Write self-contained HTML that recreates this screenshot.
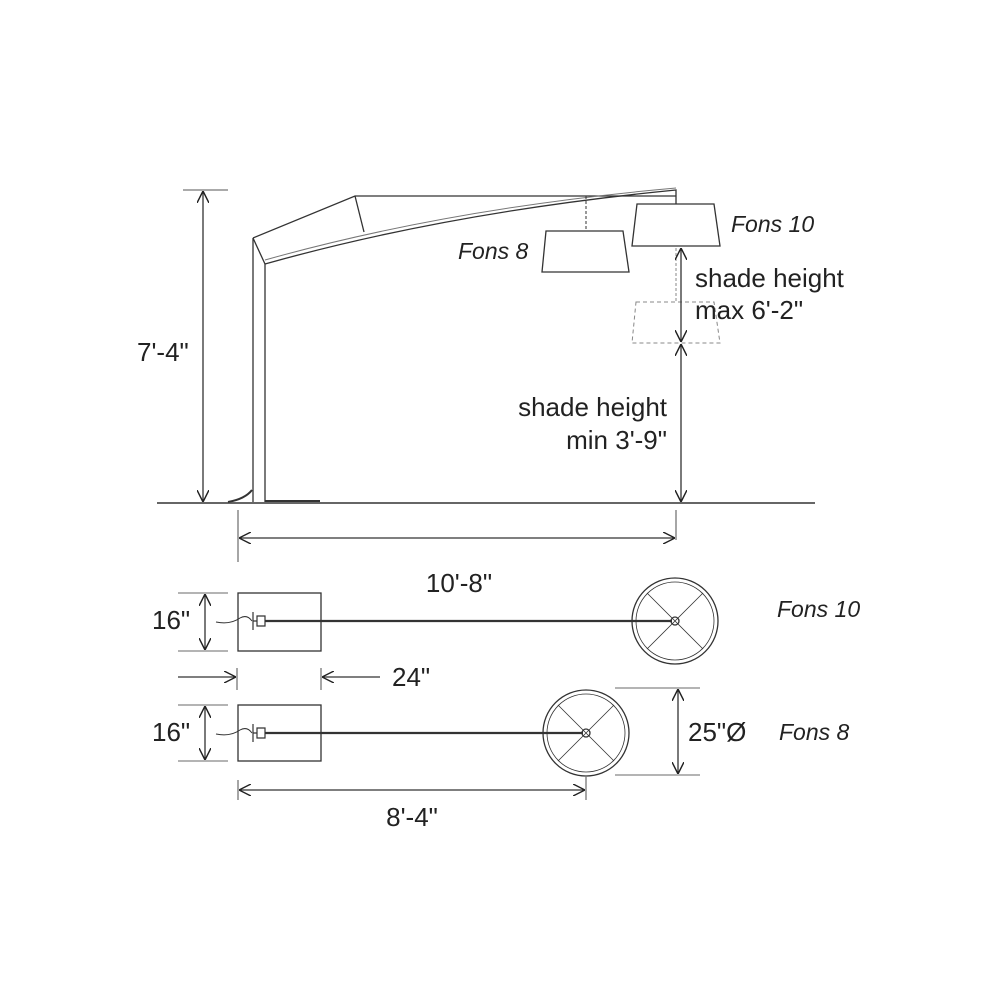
<!DOCTYPE html>
<html><head><meta charset="utf-8"><style>
html,body{margin:0;padding:0;background:#fff;}
svg{display:block}
text{font-family:"Liberation Sans",sans-serif;font-size:26px;fill:#222}
.i{font-style:italic;font-size:23px}
</style></head><body>
<svg width="1000" height="1000" viewBox="0 0 1000 1000" xmlns="http://www.w3.org/2000/svg">
<defs>
<marker id="a" viewBox="0 0 10 10" refX="10" refY="5" markerWidth="12" markerHeight="12" markerUnits="userSpaceOnUse" orient="auto-start-reverse">
<path d="M0,0 L10,5 L0,10" fill="none" stroke="#222" stroke-width="1.2"/>
</marker>
</defs>
<g stroke="#333" fill="none" stroke-width="1.3">
<line x1="157" y1="503" x2="815" y2="503" stroke="#666" stroke-width="2"/>
<line x1="183" y1="190" x2="228" y2="190" stroke="#777"/>
<line x1="203" y1="191" x2="203" y2="502" marker-start="url(#a)" marker-end="url(#a)"/>
<line x1="253" y1="238" x2="253" y2="502"/>
<line x1="265" y1="264" x2="265" y2="502"/>
<line x1="265" y1="501" x2="320" y2="501" stroke-width="2"/>
<path d="M228,502 Q245,499 252,490" stroke-width="2"/>
<path d="M253,238 L355,196 L676,196 M355,196 L364,232 M253,238 L265,264"/>
<path d="M265,264 Q450,212 676,190 L676,196"/>
<path d="M265,260 Q450,208 676,188" stroke="#777" stroke-width="1"/>
<line x1="586" y1="196" x2="586" y2="231" stroke-dasharray="3,2" stroke-width="1"/>
<path d="M546,231 L623,231 L629,272 L542,272 Z"/>
<line x1="676" y1="196" x2="676" y2="204"/>
<path d="M637,204 L714,204 L720,246 L632,246 Z"/>
<path d="M636,302 L714,302 L720,343 L632,343 Z" stroke="#888" stroke-dasharray="4,3" stroke-width="1"/>
<line x1="676" y1="248" x2="676" y2="302" stroke="#888" stroke-dasharray="3,2" stroke-width="1"/>
<line x1="681" y1="248" x2="681" y2="342" marker-start="url(#a)" marker-end="url(#a)"/>
<line x1="681" y1="344" x2="681" y2="502" marker-start="url(#a)" marker-end="url(#a)"/>
<line x1="238" y1="510" x2="238" y2="562" stroke="#777"/>
<line x1="676" y1="510" x2="676" y2="540" stroke="#777"/>
<line x1="239" y1="538" x2="675" y2="538" marker-start="url(#a)" marker-end="url(#a)"/>
<line x1="178" y1="593" x2="228" y2="593" stroke="#888"/>
<line x1="178" y1="651" x2="228" y2="651" stroke="#888"/>
<line x1="205" y1="594" x2="205" y2="650" marker-start="url(#a)" marker-end="url(#a)"/>
<rect x="238" y="593" width="83" height="58"/>
<path d="M216,622 Q230,625 240,618 Q247,614 252,621" stroke-width="1"/>
<path d="M253,612 L253,630 M253,621 L257,621 M257,616 L265,616 L265,626 L257,626 Z" stroke-width="1.2"/>
<line x1="265" y1="621" x2="672" y2="621" stroke-width="2.2"/>
<circle cx="675" cy="621" r="43"/>
<circle cx="675" cy="621" r="39" stroke-width="0.8"/>
<path d="M647,593 L703,649 M703,593 L647,649" stroke-width="0.8"/>
<circle cx="675" cy="621" r="4"/>
<line x1="237" y1="668" x2="237" y2="690" stroke="#777"/>
<line x1="321" y1="668" x2="321" y2="690" stroke="#777"/>
<line x1="178" y1="677" x2="236" y2="677" marker-end="url(#a)"/>
<line x1="380" y1="677" x2="322" y2="677" marker-end="url(#a)"/>
<line x1="178" y1="705" x2="228" y2="705" stroke="#888"/>
<line x1="178" y1="761" x2="228" y2="761" stroke="#888"/>
<line x1="205" y1="706" x2="205" y2="760" marker-start="url(#a)" marker-end="url(#a)"/>
<rect x="238" y="705" width="83" height="56"/>
<path d="M216,734 Q230,737 240,730 Q247,726 252,733" stroke-width="1"/>
<path d="M253,724 L253,742 M253,733 L257,733 M257,728 L265,728 L265,738 L257,738 Z" stroke-width="1.2"/>
<line x1="265" y1="733" x2="583" y2="733" stroke-width="2.2"/>
<circle cx="586" cy="733" r="43"/>
<circle cx="586" cy="733" r="39" stroke-width="0.8"/>
<path d="M558,705 L614,761 M614,705 L558,761" stroke-width="0.8"/>
<circle cx="586" cy="733" r="4"/>
<line x1="615" y1="688" x2="700" y2="688" stroke="#888"/>
<line x1="615" y1="775" x2="700" y2="775" stroke="#888"/>
<line x1="678" y1="689" x2="678" y2="774" marker-start="url(#a)" marker-end="url(#a)"/>
<line x1="238" y1="780" x2="238" y2="800" stroke="#777"/>
<line x1="586" y1="776" x2="586" y2="800" stroke="#777"/>
<line x1="239" y1="790" x2="585" y2="790" marker-start="url(#a)" marker-end="url(#a)"/>
</g>
<text x="137" y="361">7'-4"</text>
<text class="i" x="458" y="259">Fons 8</text>
<text class="i" x="731" y="232">Fons 10</text>
<text x="695" y="287">shade height</text>
<text x="695" y="319">max 6'-2"</text>
<text x="667" y="416" text-anchor="end">shade height</text>
<text x="667" y="449" text-anchor="end">min 3'-9"</text>
<text x="459" y="592" text-anchor="middle">10'-8"</text>
<text x="152" y="629">16"</text>
<text x="152" y="741">16"</text>
<text x="392" y="686">24"</text>
<text x="688" y="741">25"Ø</text>
<text class="i" x="777" y="617">Fons 10</text>
<text class="i" x="779" y="740">Fons 8</text>
<text x="412" y="826" text-anchor="middle">8'-4"</text>
</svg>
</body></html>
